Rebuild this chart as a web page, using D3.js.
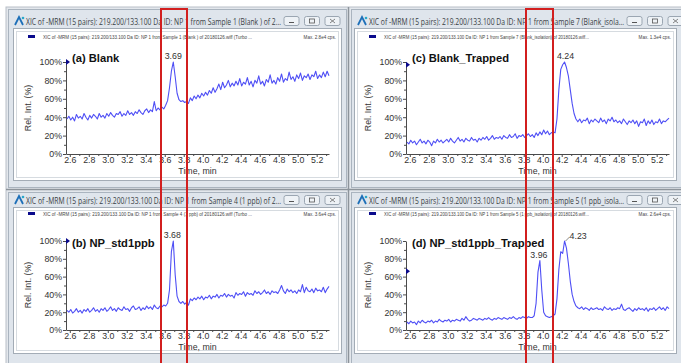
<!DOCTYPE html>
<html><head><meta charset="utf-8">
<script src="https://cdn.jsdelivr.net/npm/d3@7"></script>
<style>body{margin:0;background:#fff}svg{display:block}</style>
</head><body>
<script>
// ---------------- data ----------------
const tStart = 2.57, tStep = 0.02;   // scan times (min)
const xTicks = [2.6,2.8,3.0,3.2,3.4,3.6,3.8,4.0,4.2,4.4,4.6,4.8,5.0,5.2];
const xMinor = [2.7,2.9,3.1,3.3,3.5,3.7,3.9,4.1,4.3,4.5,4.7,4.9,5.1,5.3];
const yTicks = [0,20,40,60,80,100];
const yMinor = [10,30,50,70,90];
const panelTitles = ["(a) Blank","(b) NP_std1ppb","(c) Blank_Trapped","(d) NP_std1ppb_Trapped"];
const windowTitles = [
 "XIC of -MRM (15 pairs): 219.200/133.100 Da ID: NP  1 from Sample 1 (Blank ) of 2...",
 "XIC of -MRM (15 pairs): 219.200/133.100 Da ID: NP  1 from Sample 4 (1 ppb) of 2...",
 "XIC of -MRM (15 pairs): 219.200/133.100 Da ID: NP  1 from Sample 7 (Blank_isola...",
 "XIC of -MRM (15 pairs): 219.200/133.100 Da ID: NP  1 from Sample 5 (1 ppb_isola..."];
const legendTexts = [
 "XIC of -MRM (15 pairs): 219.200/133.100 Da ID: NP  1 from Sample 1 (Blank ) of 20180126.wiff (Turbo ...",
 "XIC of -MRM (15 pairs): 219.200/133.100 Da ID: NP  1 from Sample 4 (1 ppb) of 20180126.wiff (Turbo ...",
 "XIC of -MRM (15 pairs): 219.200/133.100 Da ID: NP  1 from Sample 7 (Blank_isolation) of 20180126.wiff...",
 "XIC of -MRM (15 pairs): 219.200/133.100 Da ID: NP  1 from Sample 5 (1 ppb_isolation) of 20180126.wiff..."];
const maxTexts = ["Max. 2.8e4 cps.","Max. 3.6e4 cps.","Max. 1.3e4 cps.","Max. 2.6e4 cps."];
const peakTimes = [[3.69],[3.68],[4.24],[3.96,4.23]];
const peakHeights = [[100],[100],[100],[78,100]];
const markerLevels = [100,100,97,66];

const seriesA = [
 38,41,37,40,36,43,39,41,38,44,
 40,37,42,39,43,41,38,44,40,42,
 39,44,41,45,42,40,44,43,46,41,
 44,42,47,43,45,42,46,44,48,45,
 43,47,49,45,48,46,57,47,50,48,
 51,49,53,58,72,90,100,84,66,59,
 57,58,56,57,55,61,58,63,60,64,
 61,66,63,67,64,69,66,72,67,71,
 76,70,78,72,75,80,73,77,74,79,
 75,82,74,78,76,83,75,79,73,80,
 77,85,76,79,74,81,78,86,77,80,
 76,83,79,87,78,82,80,89,81,84,
 79,86,82,88,80,85,83,87,81,86,
 84,90,82,86,83,89,84,90,85];
const seriesB = [
 22,20,23,19,21,24,20,22,19,23,
 21,24,20,22,25,21,23,20,24,22,
 25,21,23,26,22,24,21,25,23,22,
 26,23,24,21,25,27,23,24,26,22,
 25,23,27,24,26,23,28,25,24,27,
 26,28,27,30,45,88,100,62,38,32,
 30,32,29,31,28,35,33,36,34,37,
 35,38,34,37,36,39,35,38,37,40,
 36,39,38,41,37,40,38,39,36,42,
 39,41,40,43,38,42,40,41,39,44,
 41,43,40,42,45,41,43,40,44,42,
 43,41,45,50,44,41,46,43,45,42,
 44,41,45,43,51,42,48,44,43,46,
 42,47,44,45,43,48,42,46,49];
const seriesC = [
 13,11,15,12,14,10,13,16,12,14,
 11,15,13,9,14,12,16,13,15,12,
 14,16,13,17,14,12,15,18,14,16,
 13,17,15,14,18,15,16,13,17,15,
 18,16,19,15,17,20,16,18,17,19,
 16,20,18,17,21,18,19,22,17,20,
 19,21,18,20,22,19,21,18,23,20,
 24,21,26,22,25,21,23,24,23,38,
 70,92,97,100,94,85,70,55,44,38,
 35,38,34,37,36,39,33,37,35,38,
 36,34,39,35,37,33,38,36,40,35,
 37,34,36,33,38,35,32,36,34,37,
 33,36,30,35,34,38,31,36,33,37,
 32,35,34,38,33,36,35,37,39];
const seriesD = [
 9,7,10,8,9,6,10,8,11,9,
 8,10,9,11,8,10,9,12,10,9,
 11,10,12,9,11,10,12,11,10,13,
 11,15,12,10,11,13,12,11,13,12,
 11,13,12,14,12,11,13,12,14,13,
 12,14,13,12,14,13,15,13,12,14,
 13,15,14,13,15,14,14,16,30,65,
 78,45,20,16,15,14,15,16,18,35,
 68,88,86,100,92,75,55,40,32,27,
 25,24,26,23,25,24,22,25,23,24,
 25,23,24,22,26,24,23,25,22,24,
 23,25,24,29,23,22,24,25,23,21,
 24,22,25,23,24,22,25,21,24,23,
 25,22,24,26,23,25,22,26,24];
const allSeries = [seriesA, seriesB, seriesC, seriesD];
const xDomain = [2.56, 5.33];
const yDomain = [0, 100];

// ---------------- layout ----------------
const W = 681, H = 363;
const layout = [
 {wx:8,  wy:9,   ww:338, wh:178, titleY:21,  ix:13,  iy:28,  iw:328, ih:152, legY:37,  x0:66,  x1:329, yTop:62,  yBot:154, titleBase:62,  ylabY:108},
 {wx:8,  wy:192, ww:338, wh:180, titleY:200, ix:13,  iy:207, iw:328, ih:146, legY:214, x0:66,  x1:329, yTop:241, yBot:330, titleBase:247, ylabY:285},
 {wx:351,wy:9,   ww:340, wh:178, titleY:21,  ix:354, iy:28,  iw:322, ih:152, legY:37,  x0:406, x1:669, yTop:62,  yBot:154, titleBase:62,  ylabY:108},
 {wx:351,wy:192, ww:340, wh:180, titleY:200, ix:354, iy:207, iw:322, ih:146, legY:214, x0:406, x1:669, yTop:241, yBot:330, titleBase:247, ylabY:285}
];
const FONT = "'Liberation Sans', Arial, sans-serif";

const svg = d3.select("body").append("svg").attr("width", W).attr("height", H);
svg.append("rect").attr("width", W).attr("height", H).attr("fill", "#ffffff");
// splitter background
svg.append("rect").attr("x",6).attr("y",7).attr("width",W).attr("height",H).attr("fill","#e3e7ec").attr("stroke","#b9c0c8");
svg.append("line").attr("x1",348.5).attr("x2",348.5).attr("y1",7).attr("y2",H).attr("stroke","#8d949b").attr("stroke-width",1.5);
svg.append("line").attr("x1",6).attr("x2",W).attr("y1",189.5).attr("y2",189.5).attr("stroke","#8d949b").attr("stroke-width",1.5);

layout.forEach((L, k) => {
  const g = svg.append("g");
  // window frame
  g.append("rect").attr("x",L.wx+0.5).attr("y",L.wy+0.5).attr("width",L.ww).attr("height",L.wh)
    .attr("fill","#dfe5ec").attr("stroke","#aab4bf");
  // icon
  const icx = L.wx+7, icy = L.titleY-4;
  g.append("path").attr("d",`M${icx},${icy+8} L${icx+4},${icy} L${icx+8},${icy+8}`).attr("fill","none")
    .attr("stroke","#1d6fb8").attr("stroke-width",1.8);
  g.append("circle").attr("cx",icx+8).attr("cy",icy+1).attr("r",1.3).attr("fill","#2aa7c9");
  // title text
  g.append("text").attr("x",L.wx+18).attr("y",L.titleY+3.5).text(windowTitles[k])
    .attr("font-family","'Open Sans', 'Liberation Sans', sans-serif").attr("font-size",9.5).attr("fill","#3a3f45")
    .attr("textLength",255).attr("lengthAdjust","spacingAndGlyphs");
  // buttons
  [0,1,2].forEach(b => {
    const bx = L.wx + 276 + b*20.5, by = L.titleY - 4.5;
    g.append("rect").attr("x",bx).attr("y",by).attr("width",15).attr("height",9).attr("rx",2)
      .attr("fill","#eef2f6").attr("stroke","#9ba6b2");
    if (b===0) g.append("line").attr("x1",bx+5).attr("x2",bx+10).attr("y1",by+6).attr("y2",by+6).attr("stroke","#555");
    if (b===1) g.append("rect").attr("x",bx+5).attr("y",by+2.5).attr("width",5).attr("height",4).attr("fill","none").attr("stroke","#555").attr("stroke-width",0.8);
    if (b===2) g.append("path").attr("d",`M${bx+5},${by+2.5}L${bx+10},${by+6.5}M${bx+10},${by+2.5}L${bx+5},${by+6.5}`).attr("stroke","#666").attr("stroke-width",0.8);
  });
  // inner frame
  g.append("rect").attr("x",L.ix+0.5).attr("y",L.iy+0.5).attr("width",L.iw).attr("height",L.ih)
    .attr("fill","#ffffff").attr("stroke","#a3acb6");
  g.append("rect").attr("x",L.ix+3.5).attr("y",L.iy+3.5).attr("width",L.iw-6).attr("height",L.ih-6)
    .attr("fill","#ffffff").attr("stroke","#d6dbe0");
  // legend row
  g.append("rect").attr("x",L.ix+15).attr("y",L.legY-2).attr("width",7).attr("height",3).attr("fill","#0a0a8c");
  g.append("text").attr("x",L.ix+30).attr("y",L.legY+1.5).text(legendTexts[k])
    .attr("font-family",FONT).attr("font-size",4.6).attr("fill","#444")
    .attr("textLength",k<2?209:205).attr("lengthAdjust","spacingAndGlyphs");
  g.append("text").attr("x",L.ix+L.iw-5).attr("y",L.legY+1.5).attr("text-anchor","end").text(maxTexts[k])
    .attr("font-family",FONT).attr("font-size",4.6).attr("fill","#444");

  // scales
  const x = d3.scaleLinear().domain(xDomain).range([L.x0, L.x1]);
  const y = d3.scaleLinear().domain(yDomain).range([L.yBot, L.yTop]);

  // axes
  const ax = g.append("g").attr("transform",`translate(0,${L.yBot})`)
    .call(d3.axisBottom(x).tickValues(xTicks).tickFormat(d3.format(".1f")).tickSize(3).tickSizeOuter(0));
  const axm = g.append("g").attr("transform",`translate(0,${L.yBot})`)
    .call(d3.axisBottom(x).tickValues(xMinor).tickFormat("").tickSize(2).tickSizeOuter(0));
  axm.select(".domain").remove();
  const ay = g.append("g").attr("transform",`translate(${L.x0},0)`)
    .call(d3.axisLeft(y).tickValues(yTicks).tickFormat(d => d + "%").tickSize(3).tickSizeOuter(0));
  const aym = g.append("g").attr("transform",`translate(${L.x0},0)`)
    .call(d3.axisLeft(y).tickValues(yMinor).tickFormat("").tickSize(2).tickSizeOuter(0));
  aym.select(".domain").remove();
  [ax, axm, ay, aym].forEach(a => {
    a.selectAll("path,line").attr("stroke","#4a4a4a");
    a.selectAll("text").attr("font-family",FONT).attr("font-size",8.8).attr("fill","#333");
  });
  ax.selectAll("text").attr("dy","0.6em").attr("y",4);
  ay.selectAll("text").attr("x",-4);

  // axis labels
  g.append("text").attr("x",(L.x0+L.x1)/2).attr("y",L.yBot+20).attr("text-anchor","middle").text("Time, min")
    .attr("font-family",FONT).attr("font-size",8.8).attr("fill","#333");
  g.append("text").attr("transform",`translate(${L.x0-35},${L.ylabY}) rotate(-90)`).attr("text-anchor","middle")
    .text("Rel. Int. (%)").attr("font-family",FONT).attr("font-size",8.8).attr("fill","#333");

  // data line
  const data = allSeries[k].map((v,i) => ({t: tStart + i*tStep, v}));
  g.append("path").datum(data)
    .attr("d", d3.line().x(d => x(d.t)).y(d => y(d.v)))
    .attr("fill","none").attr("stroke","#4f4ff5").attr("stroke-width",1.1).attr("stroke-linejoin","round");

  // y axis marker
  const my = y(markerLevels[k]);
  g.append("path").attr("d",`M${L.x0},${my-3} L${L.x0+4},${my} L${L.x0},${my+3} Z`).attr("fill","#0a0a8c");

  // panel title
  g.append("text").attr("x",L.x0+6).attr("y",L.titleBase).text(panelTitles[k])
    .attr("font-family",FONT).attr("font-weight","bold").attr("font-size",11.2).attr("fill","#111");

  // peak labels
  peakTimes[k].forEach((pt, j) => {
    const isShift = (k===3 && j===1);
    const px = x(pt), py = y(peakHeights[k][j]);
    if (isShift) {
      g.append("line").attr("x1",px+1).attr("y1",py).attr("x2",px+5).attr("y2",py-4).attr("stroke","#555").attr("stroke-width",0.7);
      g.append("text").attr("x",px+5).attr("y",py-2).text(pt.toFixed(2))
        .attr("font-family",FONT).attr("font-size",8.8).attr("fill","#333");
    } else {
      g.append("text").attr("x",px).attr("y",py-3).attr("text-anchor","middle").text(pt.toFixed(2))
        .attr("font-family",FONT).attr("font-size",8.8).attr("fill","#333");
    }
  });
});

// red highlight boxes
[[161,187],[526,553]].forEach(([a,b]) => {
  svg.append("rect").attr("x",a).attr("y",9).attr("width",b-a).attr("height",H)
    .attr("fill","none").attr("stroke","#d21f1f").attr("stroke-width",2);
});
</script>
</body></html>
